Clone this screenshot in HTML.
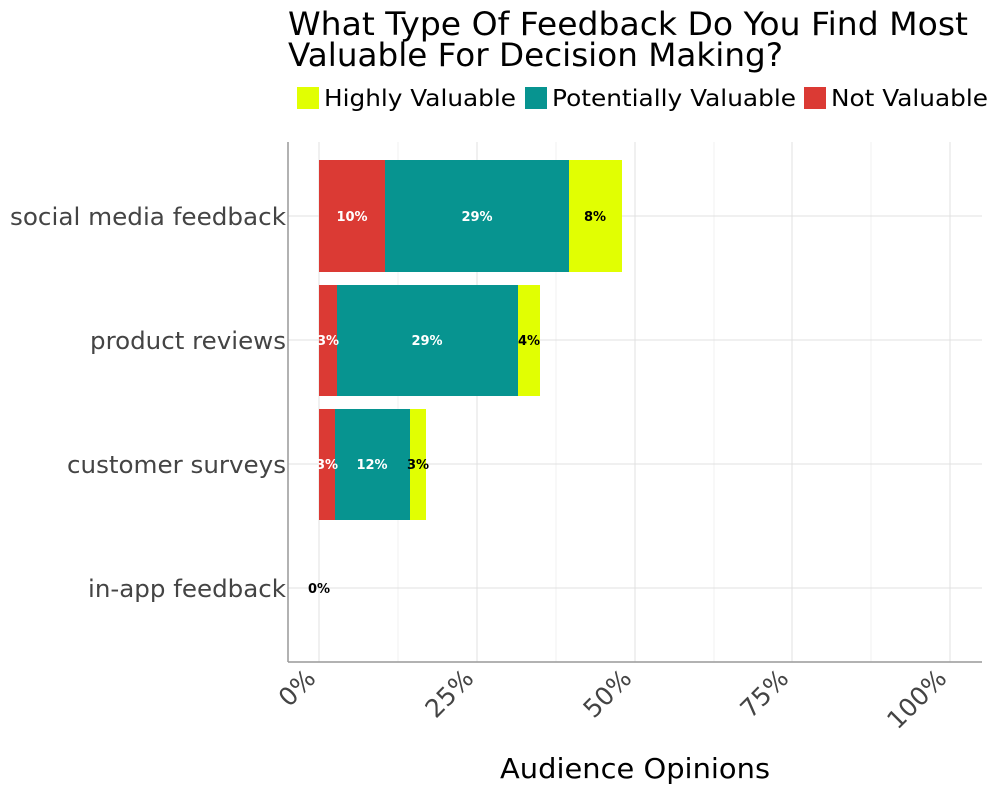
<!DOCTYPE html>
<html><head><meta charset="utf-8"><style>
body{margin:0;background:#fff}
svg text{font-family:"DejaVu Sans","Liberation Sans",sans-serif}
</style></head><body>
<svg width="1000" height="794" viewBox="0 0 1000 794" xmlns="http://www.w3.org/2000/svg">
<rect width="1000" height="794" fill="#fff"/>
<text x="288" y="35" font-size="32" fill="#000" textLength="680" lengthAdjust="spacingAndGlyphs">What Type Of Feedback Do You Find Most</text>
<text x="288" y="66" font-size="32" fill="#000" textLength="495" lengthAdjust="spacingAndGlyphs">Valuable For Decision Making?</text>
<rect x="297" y="87" width="22" height="22" fill="#e1ff02"/>
<text x="324" y="106" font-size="23" fill="#000" textLength="192" lengthAdjust="spacingAndGlyphs">Highly Valuable</text>
<rect x="525" y="87" width="22" height="22" fill="#079490"/>
<text x="552" y="106" font-size="23" fill="#000" textLength="244" lengthAdjust="spacingAndGlyphs">Potentially Valuable</text>
<rect x="804" y="87" width="22" height="22" fill="#db3a34"/>
<text x="831" y="106" font-size="23" fill="#000" textLength="157" lengthAdjust="spacingAndGlyphs">Not Valuable</text>
<g stroke="#f0f0f0" stroke-width="1">
<line x1="398" y1="142" x2="398" y2="662"/><line x1="556" y1="142" x2="556" y2="662"/>
<line x1="714" y1="142" x2="714" y2="662"/><line x1="871" y1="142" x2="871" y2="662"/>
</g>
<g stroke="#e0e0e0" stroke-width="1">
<line x1="319" y1="142" x2="319" y2="662"/><line x1="477" y1="142" x2="477" y2="662"/>
<line x1="635" y1="142" x2="635" y2="662"/><line x1="792" y1="142" x2="792" y2="662"/>
<line x1="950" y1="142" x2="950" y2="662"/>
<line x1="288" y1="216" x2="982" y2="216"/><line x1="288" y1="340" x2="982" y2="340"/>
<line x1="288" y1="464" x2="982" y2="464"/><line x1="288" y1="588" x2="982" y2="588"/>
</g>
<rect x="319" y="160" width="66" height="112" fill="#db3a34"/>
<rect x="385" y="160" width="184" height="112" fill="#079490"/>
<rect x="569" y="160" width="53" height="112" fill="#e1ff02"/>
<rect x="319" y="285" width="18" height="111" fill="#db3a34"/>
<rect x="337" y="285" width="181" height="111" fill="#079490"/>
<rect x="518" y="285" width="22" height="111" fill="#e1ff02"/>
<rect x="319" y="409" width="16" height="111" fill="#db3a34"/>
<rect x="335" y="409" width="75" height="111" fill="#079490"/>
<rect x="410" y="409" width="16" height="111" fill="#e1ff02"/>
<g font-size="13" font-weight="bold" text-anchor="middle">
<text x="352" y="221" fill="#fff">10%</text><text x="477" y="221" fill="#fff">29%</text><text x="595" y="221" fill="#000">8%</text>
<text x="328" y="345" fill="#fff">3%</text><text x="427" y="345" fill="#fff">29%</text><text x="529" y="345" fill="#000">4%</text>
<text x="327" y="469" fill="#fff">3%</text><text x="372" y="469" fill="#fff">12%</text><text x="418" y="469" fill="#000">3%</text>
<text x="319" y="593" fill="#000">0%</text>
</g>
<line x1="288" y1="142" x2="288" y2="662" stroke="#999" stroke-width="1.5"/>
<line x1="288" y1="662" x2="982" y2="662" stroke="#999" stroke-width="1.5"/>
<g font-size="24" fill="#444">
<text x="10" y="225" textLength="276" lengthAdjust="spacingAndGlyphs">social media feedback</text>
<text x="90" y="349" textLength="196" lengthAdjust="spacingAndGlyphs">product reviews</text>
<text x="67" y="473" textLength="219" lengthAdjust="spacingAndGlyphs">customer surveys</text>
<text x="88" y="597" textLength="198" lengthAdjust="spacingAndGlyphs">in-app feedback</text>
</g>
<g font-size="25" fill="#444" text-anchor="end">
<text transform="translate(317,680) rotate(-45)">0%</text>
<text transform="translate(475,680) rotate(-45)">25%</text>
<text transform="translate(633,680) rotate(-45)">50%</text>
<text transform="translate(790,680) rotate(-45)">75%</text>
<text transform="translate(948,680) rotate(-45)">100%</text>
</g>
<text x="500" y="778" font-size="28" fill="#000" textLength="270" lengthAdjust="spacingAndGlyphs">Audience Opinions</text>
</svg>
</body></html>
